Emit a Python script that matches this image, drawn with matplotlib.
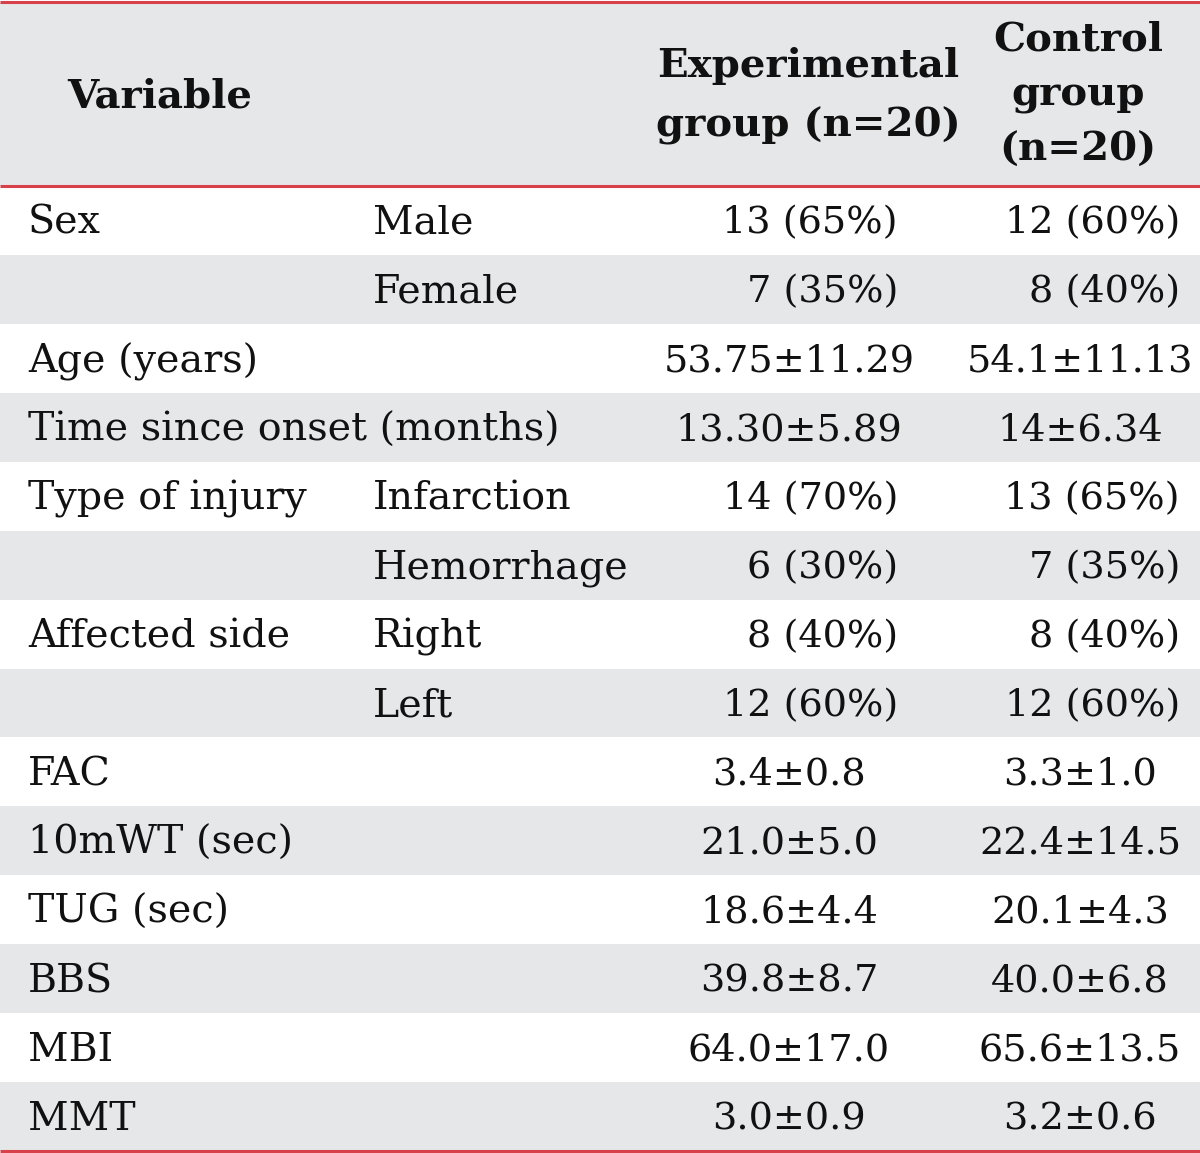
import matplotlib
matplotlib.use("Agg")
import matplotlib.pyplot as plt
from matplotlib.patches import Rectangle

variables = ["Sex", "", "Age (years)", "Time since onset (months)", "Type of injury", "",
             "Affected side", "", "FAC", "10mWT (sec)", "TUG (sec)", "BBS", "MBI", "MMT"]
subgroups = ["Male", "Female", "", "", "Infarction", "Hemorrhage", "Right", "Left",
             "", "", "", "", "", ""]
experimental = ["13 (65%)", "7 (35%)", "53.75±11.29", "13.30±5.89", "14 (70%)", "6 (30%)",
                "8 (40%)", "12 (60%)", "3.4±0.8", "21.0±5.0", "18.6±4.4", "39.8±8.7",
                "64.0±17.0", "3.0±0.9"]
control = ["12 (60%)", "8 (40%)", "54.1±11.13", "14±6.34", "13 (65%)", "7 (35%)",
           "8 (40%)", "12 (60%)", "3.3±1.0", "22.4±14.5", "20.1±4.3", "40.0±6.8",
           "65.6±13.5", "3.2±0.6"]
headers = ["Variable", "Experimental\ngroup (n=20)", "Control\ngroup\n(n=20)"]

W, H = 1200, 1153
fig = plt.figure(figsize=(W / 100, H / 100), dpi=100)
ax = fig.add_axes([0, 0, 1, 1])
ax.set_xlim(0, W)
ax.set_ylim(H, 0)
ax.axis("off")

GRAY = "#e6e7e9"
RED = "#d8414a"
TXT = "#111111"
FONT = "DejaVu Serif"
FS = 28.5
NFS = 27.5

head_top, head_bot = 2, 186
row_h = (1151 - head_bot) / len(variables)

ax.add_patch(Rectangle((0, head_top), W, head_bot - head_top, color=GRAY, lw=0))
for i in range(len(variables)):
    y0 = head_bot + i * row_h
    if i % 2 == 1:
        ax.add_patch(Rectangle((0, y0), W, row_h, color=GRAY, lw=0))
    yc = y0 + row_h / 2 + 3
    ax.text(28, yc, variables[i], ha="left", va="center", fontsize=FS, family=FONT, color=TXT)
    ax.text(373, yc, subgroups[i], ha="left", va="center", fontsize=FS, family=FONT, color=TXT)
    e = experimental[i]
    if "%" in e:
        ax.text(898, yc, e, ha="right", va="center", fontsize=NFS, family=FONT, color=TXT)
    else:
        ax.text(789, yc, e, ha="center", va="center", fontsize=NFS, family=FONT, color=TXT)
    c = control[i]
    if "%" in c:
        ax.text(1180, yc, c, ha="right", va="center", fontsize=NFS, family=FONT, color=TXT)
    else:
        ax.text(1080, yc, c, ha="center", va="center", fontsize=NFS, family=FONT, color=TXT)

ax.text(160, 96, headers[0], ha="center", va="center", fontsize=29, family=FONT,
        weight="bold", color=TXT)
ax.text(808, 96, headers[1], ha="center", va="center", fontsize=29, family=FONT,
        weight="bold", color=TXT, linespacing=1.7)
ax.text(1078, 95, headers[2], ha="center", va="center", fontsize=29, family=FONT,
        weight="bold", color=TXT, linespacing=1.56)

for y in (2, head_bot, 1151):
    ax.plot([0, W], [y, y], color=RED, lw=2.2, solid_capstyle="butt")

fig.savefig("out.png", dpi=100)
